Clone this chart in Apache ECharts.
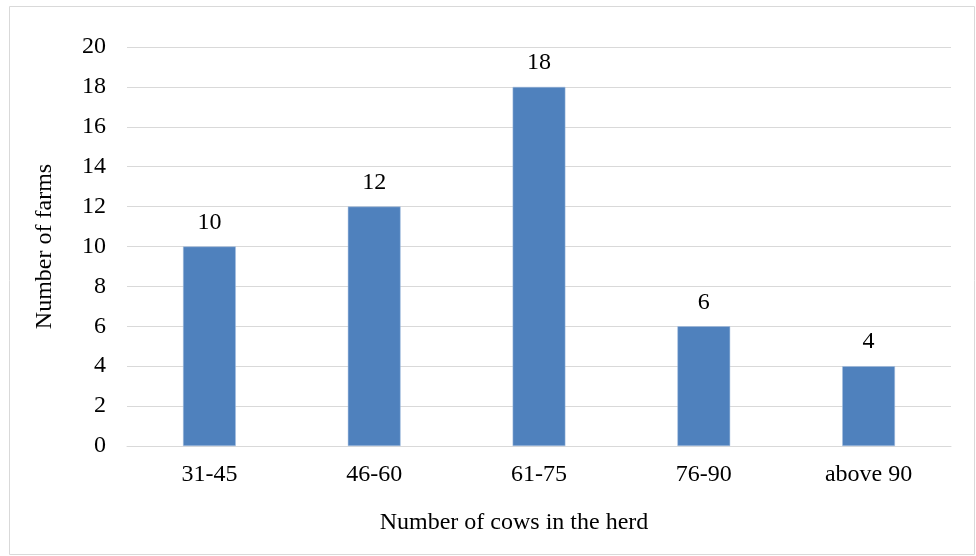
<!DOCTYPE html>
<html><head><meta charset="utf-8">
<script src="https://cdn.jsdelivr.net/npm/echarts@6/dist/echarts.min.js"></script>
<style>html,body{margin:0;padding:0;background:#fff}#c{width:976px;height:556px}</style>
</head><body><div id="c"></div>
<script>
const categories = ['31-45','46-60','61-75','76-90','above 90'];
const farms = [10,12,18,6,4];
const yTicks = {min:0,max:20,interval:2};
const FONT = '"Liberation Serif","Times New Roman",serif';
const chart = echarts.init(document.getElementById('c'));
chart.setOption({
  animation:false,
  backgroundColor:'#fff',
  graphic:[{type:'rect',shape:{x:9.5,y:6.5,width:965,height:548},style:{fill:'none',stroke:'#d9d9d9',lineWidth:1},silent:true}],
  grid:{left:127,right:25,top:47,bottom:110,containLabel:false},
  xAxis:{type:'category',data:categories,
    name:'Number of cows in the herd',nameLocation:'middle',nameGap:65,
    nameTextStyle:{fontFamily:FONT,fontSize:24,color:'#000',padding:[0,50,0,0]},
    axisLine:{show:true,lineStyle:{color:'#d9d9d9',width:1}},
    axisTick:{show:false},
    axisLabel:{fontFamily:FONT,fontSize:24,color:'#000',margin:17}},
  yAxis:{type:'value',min:yTicks.min,max:yTicks.max,interval:yTicks.interval,
    name:'Number of farms',nameLocation:'middle',nameGap:70,
    nameTextStyle:{fontFamily:FONT,fontSize:24,color:'#000'},
    axisLine:{show:false},axisTick:{show:false},
    axisLabel:{fontFamily:FONT,fontSize:24,color:'#000',margin:21},
    splitLine:{lineStyle:{color:'#d9d9d9',width:1}}},
  series:[{type:'bar',data:farms,barWidth:'32%',
    itemStyle:{color:'#4F81BD',borderColor:'#a9c0e0',borderWidth:0.5},
    label:{show:true,position:'top',distance:12,fontFamily:FONT,fontSize:24,color:'#000'}}]
});
</script></body></html>
